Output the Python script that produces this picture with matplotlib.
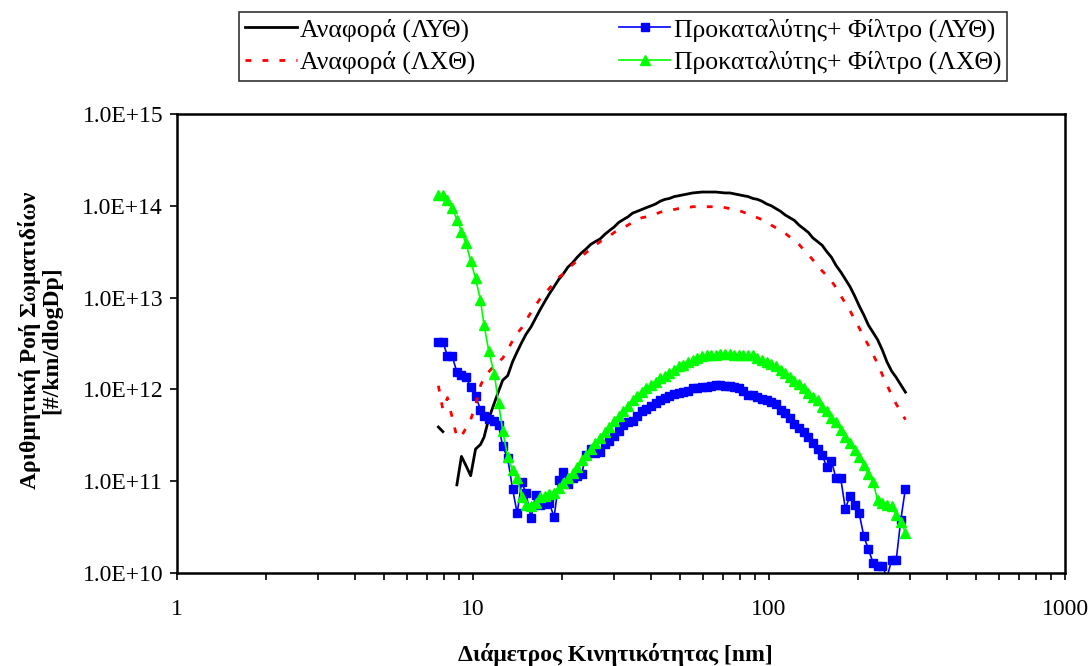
import numpy as np
import matplotlib
matplotlib.use("Agg")
import matplotlib.pyplot as plt
from matplotlib.ticker import FuncFormatter, LogLocator, NullFormatter

plt.rcParams['font.family'] = ['Liberation Serif', 'DejaVu Serif']

# Mobility diameter channels [nm]
diam = [7.64, 7.91, 8.20, 8.51, 8.82, 9.14, 9.47, 9.82, 10.2, 10.6,
        10.9, 11.3, 11.8, 12.2, 12.6, 13.1, 13.6, 14.1, 14.6, 15.1,
        15.7, 16.3, 16.8, 17.5, 18.1, 18.8, 19.5, 20.2, 20.9, 21.7,
        22.5, 23.3, 24.1, 25.0, 25.9, 26.9, 27.9, 28.9, 30.0, 31.1,
        32.2, 33.4, 34.6, 35.9, 37.2, 38.5, 40.0, 41.4, 42.9, 44.5,
        46.1, 47.8, 49.6, 51.4, 53.3, 55.2, 57.3, 59.4, 61.5, 63.8,
        66.1, 68.5, 71.0, 73.7, 76.4, 79.1, 82.0, 85.1, 88.2, 91.4,
        94.7, 98.2, 101.8, 105.5, 109.4, 113.4, 117.6, 121.9, 126.3, 131.0,
        135.8, 140.7, 145.9, 151.2, 156.8, 162.5, 168.5, 174.7, 181.1, 187.7,
        194.6, 201.7, 209.1, 216.7, 224.7, 232.9, 241.4, 250.3, 259.5, 269.0,
        278.8, 289.0]

nan = float('nan')
# log10 of particle number flux [#/km/dlogDp]
ref_lyt_log = [11.59, 11.54, nan, nan, 10.96, 11.27, 11.17, 11.06, 11.35, 11.40,
               11.48, 11.68, 11.85, 11.98, 12.10, 12.15, 12.30, 12.41, 12.51, 12.60,
               12.68, 12.78, 12.86, 12.96, 13.04, 13.12, 13.20, 13.26, 13.33, 13.38,
               13.44, 13.49, 13.53, 13.58, 13.61, 13.64, 13.69, 13.73, 13.77, 13.82,
               13.85, 13.88, 13.92, 13.94, 13.96, 13.98, 14.00, 14.02, 14.05, 14.07,
               14.08, 14.10, 14.11, 14.12, 14.13, 14.14, 14.145, 14.15, 14.15, 14.15,
               14.15, 14.145, 14.14, 14.14, 14.13, 14.12, 14.11, 14.10, 14.08, 14.07,
               14.05, 14.02, 14.00, 13.97, 13.94, 13.90, 13.87, 13.84, 13.79, 13.75,
               13.71, 13.65, 13.61, 13.57, 13.50, 13.44, 13.35, 13.28, 13.20, 13.12,
               13.02, 12.91, 12.81, 12.70, 12.62, 12.54, 12.43, 12.30, 12.20, 12.13,
               12.05, 11.97]

filt_lyt_log = [12.52, 12.52, 12.36, 12.36, 12.19, 12.16, 12.13, 12.03, 11.93, 11.78,
                11.71, 11.68, 11.66, 11.61, 11.38, 11.25, 10.92, 10.65, 10.99, 10.87,
                10.60, 10.85, 10.74, 10.75, 10.76, 10.61, 11.01, 11.10, 10.97, 11.04,
                11.06, 11.08, 11.29, 11.35, 11.31, 11.32, 11.40, 11.44, 11.49, 11.55,
                11.61, 11.65, 11.66, 11.71, 11.76, 11.79, 11.82, 11.85, 11.88, 11.91,
                11.93, 11.95, 11.96, 11.97, 11.98, 12.01, 12.02, 12.03, 12.03, 12.04,
                12.05, 12.05, 12.04, 12.04, 12.03, 12.01, 11.98, 11.94, 11.94, 11.92,
                11.89, 11.88, 11.86, 11.84, 11.78, 11.74, 11.69, 11.62, 11.58, 11.54,
                11.48, 11.42, 11.35, 11.29, 11.15, 11.22, 11.03, 11.03, 10.70, 10.84,
                10.74, 10.65, 10.40, 10.26, 10.11, 10.08, 10.08, 9.95, 10.14, 10.14,
                10.58, 10.92]

ref_lxt_log = [12.04, 11.78, 11.91, 11.69, 11.48, 11.49, 11.58, 11.67, 11.83, 12.04,
               12.13, 12.19, 12.26, 12.30, 12.34, 12.43, 12.53, 12.61, 12.67, 12.75,
               12.84, 12.92, 12.98, 13.04, 13.10, 13.16, 13.22, 13.26, 13.31, 13.36,
               13.40, 13.45, 13.49, 13.53, 13.57, 13.61, 13.64, 13.67, 13.71, 13.74,
               13.76, 13.79, 13.82, 13.85, 13.87, 13.88, 13.90, 13.91, 13.93, 13.94,
               13.95, 13.96, 13.97, 13.97, 13.98, 13.99, 13.99, 13.99, 13.99, 13.99,
               13.99, 13.985, 13.98, 13.97, 13.96, 13.95, 13.93, 13.91, 13.89, 13.87,
               13.85, 13.83, 13.79, 13.76, 13.73, 13.70, 13.66, 13.62, 13.58, 13.52,
               13.47, 13.41, 13.35, 13.29, 13.24, 13.18, 13.11, 13.02, 12.94, 12.86,
               12.76, 12.67, 12.57, 12.48, 12.38, 12.28, 12.16, 12.05, 11.94, 11.84,
               11.76, 11.67]

filt_lxt_log = [14.12, 14.12, 14.06, 13.98, 13.85, 13.72, 13.59, 13.40, 13.21, 12.97,
                12.70, 12.42, 12.17, 11.85, 11.55, 11.26, 11.12, 11.03, 10.83, 10.74,
                10.73, 10.76, 10.83, 10.84, 10.86, 10.87, 10.93, 10.98, 11.03, 11.09,
                11.16, 11.23, 11.28, 11.35, 11.42, 11.47, 11.54, 11.59, 11.66, 11.71,
                11.77, 11.82, 11.88, 11.93, 11.97, 12.01, 12.05, 12.08, 12.12, 12.15,
                12.18, 12.21, 12.25, 12.27, 12.30, 12.32, 12.34, 12.36, 12.37, 12.38,
                12.38, 12.39, 12.39, 12.39, 12.38, 12.38, 12.38, 12.37, 12.37, 12.34,
                12.32, 12.30, 12.28, 12.25, 12.21, 12.18, 12.14, 12.09, 12.06, 12.02,
                11.96, 11.92, 11.88, 11.81, 11.76, 11.69, 11.64, 11.56, 11.48, 11.42,
                11.34, 11.26, 11.18, 11.08, 10.99, 10.79, 10.76, 10.74, 10.73, 10.63,
                10.56, 10.44]

labels = ['Αναφορά (ΛΥΘ)', 'Προκαταλύτης+ Φίλτρο (ΛΥΘ)',
          'Αναφορά (ΛΧΘ)', 'Προκαταλύτης+ Φίλτρο (ΛΧΘ)']
xlabel = 'Διάμετρος Κινητικότητας [nm]'
ylabel = 'Αριθμητική Ροή Σωματιδίων\n[#/km/dlogDp]'

W, H = 1091, 666
fig = plt.figure(figsize=(W / 100, H / 100), dpi=100)
ax = fig.add_axes([177 / W, 1 - 573 / H, (1065 - 177) / W, (573 - 114) / H])

d = np.array(diam)
FS = 17
FS_LEG = 18.5

l_black, = ax.plot(d, 10 ** np.array(ref_lyt_log), color='black', lw=2.0, label=labels[0])
l_blue, = ax.plot(d, 10 ** np.array(filt_lyt_log), color='#0000FF', lw=1.2,
                  marker='s', ms=5.8, mec='#0000FF', mfc='#0000FF', label=labels[1])
l_red, = ax.plot(d, 10 ** np.array(ref_lxt_log), color='#FF0000', lw=2.0,
                 dashes=(2.1, 4.0), label=labels[2])
l_green, = ax.plot(d, 10 ** np.array(filt_lxt_log), color='#00FF00', lw=1.2,
                   marker='^', ms=6.5, mec='#00FF00', mfc='#00FF00', label=labels[3])

ax.set_xscale('log')
ax.set_yscale('log')
ax.set_xlim(1, 1000)
ax.set_ylim(1e10, 1e15)

ax.yaxis.set_major_locator(LogLocator(base=10, numticks=10))
ax.yaxis.set_minor_locator(LogLocator(base=10, subs=[], numticks=10))
ax.yaxis.set_major_formatter(FuncFormatter(lambda v, p: f"{v:.1E}"))
ax.xaxis.set_major_locator(LogLocator(base=10, numticks=10))
ax.xaxis.set_minor_locator(LogLocator(base=10, subs=np.arange(2, 10), numticks=20))
ax.xaxis.set_minor_formatter(NullFormatter())
ax.xaxis.set_major_formatter(FuncFormatter(lambda v, p: f"{v:g}"))

for s in ax.spines.values():
    s.set_linewidth(1.8)
ax.tick_params(axis='both', which='major', direction='out', length=5, width=1.2,
               labelsize=FS, color='black')
ax.tick_params(axis='x', which='minor', direction='out', length=5, width=1.2)
ax.tick_params(axis='x', which='major', pad=14)
ax.tick_params(axis='y', which='major', pad=5)

fig.text(615 / W, 1 - 655 / H, xlabel, ha='center', va='center',
         fontsize=FS, fontweight='bold')
fig.text(40 / W, 1 - 340 / H, ylabel, ha='center', va='center', rotation=90,
         fontsize=FS, fontweight='bold', multialignment='center', linespacing=1.05)

handles = [l_black, l_red, l_blue, l_green]
hl = [labels[0], labels[2], labels[1], labels[3]]
leg = fig.legend(handles, hl, ncol=2, loc='upper left',
                 bbox_to_anchor=(239 / W, 1 - 12 / H),
                 fontsize=FS_LEG, frameon=True, fancybox=False,
                 edgecolor='black', handlelength=2.0, handletextpad=0.12,
                 labelspacing=0.35, borderpad=0.25, borderaxespad=0.0,
                 columnspacing=5.6)
leg.get_frame().set_linewidth(1.2)

fig.savefig('out.png', dpi=100)
